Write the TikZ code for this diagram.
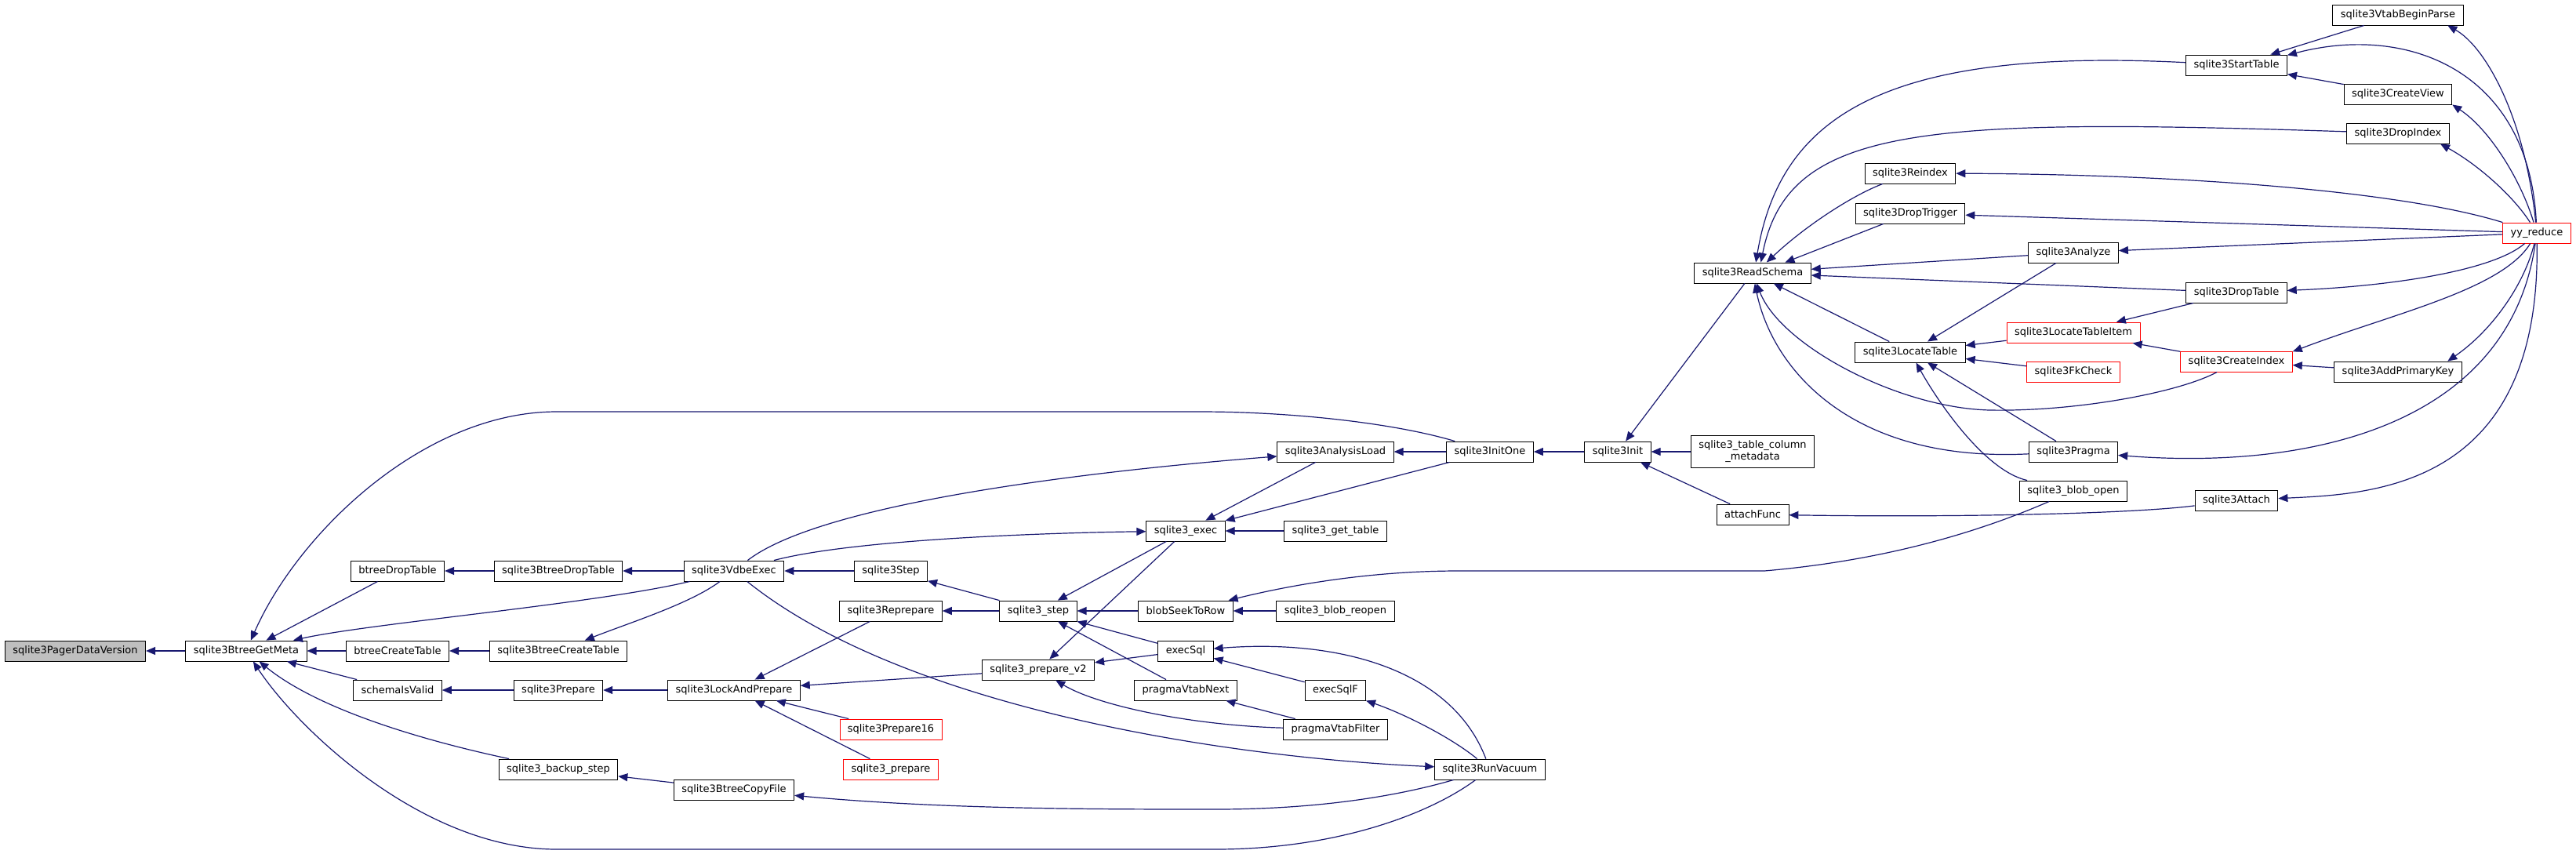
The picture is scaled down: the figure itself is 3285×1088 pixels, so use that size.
\documentclass[tikz,border=0pt]{standalone}
\usepackage{fontspec}
\setmainfont{DejaVu Sans}
\usetikzlibrary{arrows.meta}
\definecolor{edgeblue}{HTML}{191970}
\definecolor{rootgray}{HTML}{BFBFBF}

\begin{document}
\begin{tikzpicture}[
    x=1pt, y=-1pt,
    fn/.style={draw=black, line width=0.9pt, fill=white, inner xsep=10pt, inner ysep=0pt, minimum height=26pt, font=\fontsize{13}{15}\selectfont},
    fnred/.style={fn, draw=red},
    fnroot/.style={fn, fill=rootgray},
    call/.style={draw=edgeblue, line width=1.2pt, {Triangle[length=12pt,width=10pt]}-}
]
    \useasboundingbox (0,0) rectangle (3285,1088);

    % Root and btree callers
    \node[fnroot] at (96,830) (pager) {sqlite3PagerDataVersion};
    \node[fn] at (314,830) (getmeta) {sqlite3BtreeGetMeta};
    \node[fn] at (507,728) (btreedrop) {btreeDropTable};
    \node[fn] at (507,830) (btreecreate) {btreeCreateTable};
    \node[fn] at (507,880) (schemavalid) {schemaIsValid};
    \node[fn] at (712,728) (bdroptable) {sqlite3BtreeDropTable};
    \node[fn] at (712,830) (bcreatetable) {sqlite3BtreeCreateTable};
    \node[fn] at (712,880) (prepare) {sqlite3Prepare};
    \node[fn] at (712,981) (backup) {sqlite3\_backup\_step};
    \node[fn] at (936,728) (vdbeexec) {sqlite3VdbeExec};
    \node[fn] at (936,880) (lockprep) {sqlite3LockAndPrepare};
    \node[fn] at (936,1007) (copyfile) {sqlite3BtreeCopyFile};

    % Prepare and step
    \node[fn] at (1136,728) (vstep) {sqlite3Step};
    \node[fn] at (1136,779) (reprepare) {sqlite3Reprepare};
    \node[fnred] at (1136,930) (prep16) {sqlite3Prepare16};
    \node[fnred] at (1136,981) (prepplain) {sqlite3\_prepare};
    \node[fn] at (1324,779) (stepapi) {sqlite3\_step};
    \node[fn] at (1324,854) (prepv2) {sqlite3\_prepare\_v2};
    \node[fn] at (1512,677) (exec) {sqlite3\_exec};
    \node[fn] at (1512,779) (blobseek) {blobSeekToRow};
    \node[fn] at (1512,830) (execsql) {execSql};
    \node[fn] at (1512,880) (vtabnext) {pragmaVtabNext};
    \node[fn] at (1703,576) (analysisload) {sqlite3AnalysisLoad};
    \node[fn] at (1703,677) (gettable) {sqlite3\_get\_table};
    \node[fn] at (1703,779) (blobreopen) {sqlite3\_blob\_reopen};
    \node[fn] at (1703,880) (execsqlf) {execSqlF};
    \node[fn] at (1703,930) (vtabfilter) {pragmaVtabFilter};
    \node[fn] at (1900,576) (initone) {sqlite3InitOne};
    \node[fn] at (1900,981) (runvacuum) {sqlite3RunVacuum};

    % Schema and parser side
    \node[fn] at (2063,576) (init) {sqlite3Init};
    \node[fn] at (2235,348) (readschema) {sqlite3ReadSchema};
    \node[fn, align=center, minimum height=41pt] at (2235,576) (colmeta) {sqlite3\_table\_column\\\_metadata};
    \node[fn] at (2235,656) (attachfunc) {attachFunc};
    \node[fn] at (2436,221) (reindex) {sqlite3Reindex};
    \node[fn] at (2436,272) (droptrigger) {sqlite3DropTrigger};
    \node[fn] at (2436,449) (locatetable) {sqlite3LocateTable};
    \node[fn] at (2644,322) (analyze) {sqlite3Analyze};
    \node[fnred] at (2644,424) (locateitem) {sqlite3LocateTableItem};
    \node[fnred] at (2644,474) (fkcheck) {sqlite3FkCheck};
    \node[fn] at (2644,576) (pragma) {sqlite3Pragma};
    \node[fn] at (2644,626) (blobopen) {sqlite3\_blob\_open};
    \node[fn] at (2852,83) (starttable) {sqlite3StartTable};
    \node[fn] at (2852,373) (droptable) {sqlite3DropTable};
    \node[fnred] at (2852,461) (createindex) {sqlite3CreateIndex};
    \node[fn] at (2852,638) (attach) {sqlite3Attach};
    \node[fn] at (3058,19) (vtabbegin) {sqlite3VtabBeginParse};
    \node[fn] at (3058,120) (createview) {sqlite3CreateView};
    \node[fn] at (3058,170) (dropindex) {sqlite3DropIndex};
    \node[fn] at (3058,474) (addpk) {sqlite3AddPrimaryKey};
    \node[fnred] at (3235,297) (yyreduce) {yy\_reduce};

    % Call arrows, left part
    \draw[call] (pager) -- (getmeta);
    \draw[call] (getmeta) -- (btreedrop);
    \draw[call] (getmeta) -- (btreecreate);
    \draw[call] (getmeta) -- (schemavalid);
    \draw[call] (getmeta) .. controls (470,795) and (760,770) .. (vdbeexec);
    \draw[call] (getmeta) .. controls (400,900) and (520,940) .. (backup);
    \draw[call] (getmeta) .. controls (380,680) and (540,525) .. (710,525) -- (1530,525) .. controls (1650,525) and (1780,540) .. (initone);
    \draw[call] (getmeta) .. controls (380,930) and (540,1083) .. (710,1083) -- (1550,1083) .. controls (1700,1083) and (1820,1040) .. (runvacuum);
    \draw[call] (btreedrop) -- (bdroptable);
    \draw[call] (btreecreate) -- (bcreatetable);
    \draw[call] (schemavalid) -- (prepare);
    \draw[call] (bdroptable) -- (vdbeexec);
    \draw[call] (bcreatetable) .. controls (800,795) and (880,770) .. (vdbeexec);
    \draw[call] (prepare) -- (lockprep);
    \draw[call] (backup) -- (copyfile);
    \draw[call] (copyfile) .. controls (1200,1032) and (1400,1032) .. (1550,1032) .. controls (1700,1032) and (1800,1010) .. (runvacuum);

    % Call arrows, middle part
    \draw[call] (vdbeexec) -- (vstep);
    \draw[call] (exec) .. controls (1300,680) and (1080,690) .. (vdbeexec);
    \draw[call] (analysisload) .. controls (1400,600) and (1050,640) .. (vdbeexec);
    \draw[call] (runvacuum) .. controls (1550,965) and (1150,900) .. (vdbeexec);
    \draw[call] (lockprep) -- (reprepare);
    \draw[call] (lockprep) -- (prepv2);
    \draw[call] (lockprep) -- (prep16);
    \draw[call] (lockprep) -- (prepplain);
    \draw[call] (vstep) -- (stepapi);
    \draw[call] (reprepare) -- (stepapi);
    \draw[call] (stepapi) -- (exec);
    \draw[call] (prepv2) -- (exec);
    \draw[call] (stepapi) -- (blobseek);
    \draw[call] (stepapi) -- (execsql);
    \draw[call] (stepapi) -- (vtabnext);
    \draw[call] (prepv2) -- (execsql);
    \draw[call] (prepv2) .. controls (1400,900) and (1520,925) .. (vtabfilter);
    \draw[call] (exec) -- (analysisload);
    \draw[call] (exec) -- (initone);
    \draw[call] (exec) -- (gettable);
    \draw[call] (blobseek) .. controls (1650,745) and (1750,728) .. (1860,728) -- (2250,728) .. controls (2400,715) and (2520,680) .. (blobopen);
    \draw[call] (blobseek) -- (blobreopen);
    \draw[call] (execsql) .. controls (1700,815) and (1850,850) .. (runvacuum);
    \draw[call] (execsql) -- (execsqlf);
    \draw[call] (execsqlf) .. controls (1790,910) and (1850,940) .. (runvacuum);
    \draw[call] (vtabnext) -- (vtabfilter);
    \draw[call] (analysisload) -- (initone);
    \draw[call] (initone) -- (init);

    % Call arrows, right part
    \draw[call] (init) -- (readschema);
    \draw[call] (init) -- (colmeta);
    \draw[call] (init) -- (attachfunc);
    \draw[call] (attachfunc) .. controls (2500,660) and (2720,655) .. (attach);
    \draw[call] (readschema.73) .. controls (2270,150) and (2400,60) .. (starttable);
    \draw[call] (readschema.52) .. controls (2280,160) and (2450,150) .. (dropindex);
    \draw[call] (readschema.37) .. controls (2300,290) and (2360,250) .. (reindex);
    \draw[call] (readschema.18) -- (droptrigger);
    \draw[call] (readschema) -- (analyze);
    \draw[call] (readschema) -- (droptable);
    \draw[call] (readschema) -- (locatetable);
    \draw[call] (readschema) .. controls (2270,440) and (2420,520) .. (2537,523) .. controls (2650,525) and (2780,500) .. (createindex);
    \draw[call] (readschema) .. controls (2260,470) and (2360,590) .. (pragma);
    \draw[call] (locatetable) -- (analyze);
    \draw[call] (locatetable) -- (locateitem);
    \draw[call] (locatetable) -- (fkcheck);
    \draw[call] (locatetable) -- (pragma);
    \draw[call] (locatetable) .. controls (2470,510) and (2530,600) .. (blobopen);
    \draw[call] (locateitem) -- (droptable);
    \draw[call] (locateitem) -- (createindex);
    \draw[call] (createindex) -- (addpk);
    \draw[call] (starttable) -- (vtabbegin);
    \draw[call] (starttable) -- (createview);

    % Everything called from yy_reduce
    \draw[call] (analyze) -- (yyreduce);
    \draw[call] (droptable) .. controls (3050,365) and (3180,345) .. (yyreduce);
    \draw[call] (createindex.10) .. controls (3050,400) and (3190,370) .. (yyreduce);
    \draw[call] (addpk.12) .. controls (3180,420) and (3220,360) .. (yyreduce);
    \draw[call] (pragma) .. controls (2950,600) and (3200,540) .. (yyreduce);
    \draw[call] (attach) .. controls (3030,630) and (3240,620) .. (yyreduce);
    \draw[call] (starttable.11) .. controls (3070,30) and (3225,90) .. (yyreduce);
    \draw[call] (vtabbegin.-12) .. controls (3170,60) and (3220,150) .. (yyreduce);
    \draw[call] (createview.-11) .. controls (3175,165) and (3215,230) .. (yyreduce);
    \draw[call] (dropindex.-14) .. controls (3160,210) and (3205,250) .. (yyreduce);
    \draw[call] (reindex) .. controls (2750,222) and (3050,240) .. (yyreduce);
    \draw[call] (droptrigger) -- (yyreduce);

\end{tikzpicture}
\end{document}
